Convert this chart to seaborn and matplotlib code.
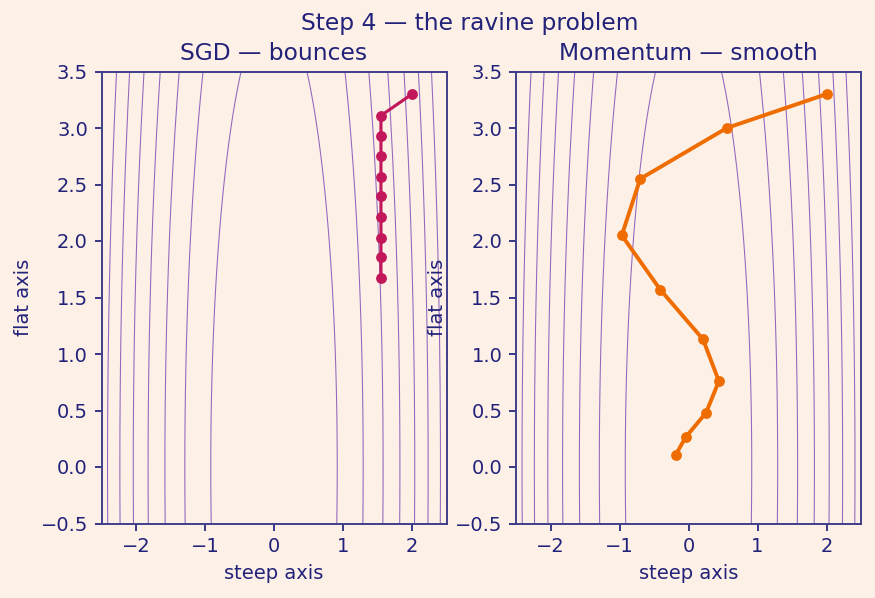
import numpy as np
import pandas as pd
import matplotlib
matplotlib.use("Agg")
import matplotlib.pyplot as plt
import seaborn as sns

# ---- data ----
sgd_x = [2.0, 1.55, 1.55, 1.55, 1.55, 1.55, 1.55, 1.55, 1.55, 1.55]
sgd_y = [3.30, 3.11, 2.93, 2.75, 2.57, 2.40, 2.21, 2.03, 1.86, 1.67]
mom_x = [2.0, 0.555, -0.70, -0.967, -0.41, 0.21, 0.44, 0.255, -0.04, -0.184]
mom_y = [3.30, 3.00, 2.55, 2.05, 1.57, 1.13, 0.76, 0.48, 0.265, 0.11]
steep_coef = 1.0
flat_coef = 0.05
contour_levels = [0.84, 1.67, 2.50, 3.33, 4.16, 4.99, 5.82]
titles = ["SGD — bounces", "Momentum — smooth"]
suptitle = "Step 4 — the ravine problem"
x_label = "steep axis"
y_label = "flat axis"

BG = "#fdf0e6"
NAVY = "#22227a"
SPINE = "#3f3f8a"
CONTOUR = "#8050b8"
COLORS = ["#c2185b", "#ef6c00"]
LWS = [1.6, 2.0]

sns.set_theme(style="white")
plt.rcParams.update({
    "figure.facecolor": BG,
    "axes.facecolor": BG,
    "axes.edgecolor": SPINE,
    "axes.labelcolor": NAVY,
    "text.color": NAVY,
    "xtick.color": NAVY,
    "ytick.color": NAVY,
    "xtick.bottom": True,
    "ytick.left": True,
    "axes.linewidth": 1.0,
    "font.size": 10,
    "axes.titlesize": 12,
    "axes.labelsize": 10,
    "xtick.labelsize": 10,
    "ytick.labelsize": 10,
})
plt.rcParams["font.family"] = ["DejaVu Sans"]

fig = plt.figure(figsize=(6.25, 598 / 140), dpi=140)
ax1 = fig.add_axes([101.5 / 875, 1 - 523.5 / 598, 345 / 875, 452 / 598])
ax2 = fig.add_axes([516.0 / 875, 1 - 523.5 / 598, 345 / 875, 452 / 598])

gx = np.linspace(-2.5, 2.5, 400)
gy = np.linspace(-0.5, 3.5, 400)
GX, GY = np.meshgrid(gx, gy)
F = steep_coef * GX ** 2 + flat_coef * GY ** 2

paths = [(sgd_x, sgd_y), (mom_x, mom_y)]
for ax, (px, py), col, lw, title in zip([ax1, ax2], paths, COLORS, LWS, titles):
    ax.contour(GX, GY, F, levels=contour_levels, colors=CONTOUR,
               linewidths=0.55, alpha=0.85)
    df = pd.DataFrame({"x": px, "y": py, "step": range(len(px))})
    sns.lineplot(data=df, x="x", y="y", sort=False, estimator=None, ax=ax,
                 color=col, linewidth=lw, marker="o", markersize=4.8,
                 markeredgecolor=col)
    ax.set_xlim(-2.5, 2.5)
    ax.set_ylim(-0.5, 3.5)
    ax.set_xticks([-2, -1, 0, 1, 2])
    ax.set_yticks([-0.5, 0.0, 0.5, 1.0, 1.5, 2.0, 2.5, 3.0, 3.5])
    ax.set_xlabel(x_label)
    ax.set_ylabel(y_label)
    ax.set_title(title, color=NAVY, pad=6)
    for s in ax.spines.values():
        s.set_visible(True)
        s.set_color(SPINE)
    ax.tick_params(length=3.5, width=0.9, colors=NAVY)

fig.suptitle(suptitle, fontsize=12, color=NAVY, x=470 / 875, y=0.98)
fig.savefig("out.png", dpi=140, facecolor=BG)
